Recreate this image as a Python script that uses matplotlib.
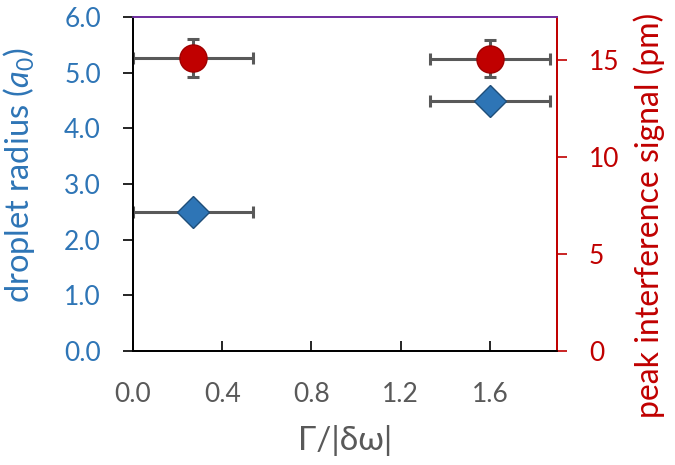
import numpy as np
import matplotlib.pyplot as plt

plt.rcParams['font.family'] = ['Lato', 'DejaVu Sans']
plt.rcParams['mathtext.fontset'] = 'custom'
plt.rcParams['mathtext.rm'] = 'Lato'
plt.rcParams['mathtext.it'] = 'Lato:italic'

# data
gamma = [0.27, 1.6]
gamma_err = [0.27, 0.27]
radius = [2.5, 4.5]
signal = [15.1, 15.05]
signal_err = [1.0, 0.95]

blue = '#2E75B6'
red = '#C00000'
grey = '#595959'

fig = plt.figure(figsize=(6.75, 4.65), dpi=100)
ax = fig.add_axes([0.197, 0.245, 0.628, 0.718])
ax2 = ax.twinx()

# droplet radius (left axis)
ax.errorbar(gamma, radius, xerr=gamma_err, fmt='none', ecolor=grey,
            elinewidth=2.2, capsize=4, capthick=2.2, zorder=2)
ax.plot(gamma, radius, 'D', ms=16.5, mfc=blue, mec='#1F4E79', mew=1.0,
        zorder=3)

# interference signal (right axis)
ax2.errorbar(gamma, signal, xerr=gamma_err, yerr=signal_err, fmt='none',
             ecolor=grey, elinewidth=2.2, capsize=4, capthick=2.2, zorder=2)
ax2.plot(gamma, signal, 'o', ms=19.5, mfc=red, mec='#A00000', mew=1.0,
         zorder=3)

ax.set_xlim(0, 1.9)
ax.set_ylim(0, 6)
ax2.set_ylim(0, 17.2)

xt = np.arange(0, 1.7, 0.4)
yt = np.arange(0, 6.1, 1.0)
ax.set_xticks(xt)
ax.set_xticklabels([f'{v:.1f}' for v in xt])
ax.set_yticks(yt)
ax.set_yticklabels([f'{v:.1f}' for v in yt])
ax2.set_yticks([0, 5, 10, 15])

ax.tick_params(axis='x', direction='in', length=7, width=1.2, color='black',
               labelcolor=grey, labelsize=19, pad=22)
ax.tick_params(axis='y', direction='out', length=7, width=1.2, color='black',
               labelcolor=blue, labelsize=19, pad=16)
ax2.tick_params(axis='y', direction='out', length=7, width=1.2, color=red,
                labelcolor=red, labelsize=19, pad=16)

for a in (ax, ax2):
    a.spines['left'].set_color('black')
    a.spines['bottom'].set_color('black')
    a.spines['right'].set_color(red)
    a.spines['top'].set_color('#7030A0')
    for s in a.spines.values():
        s.set_linewidth(1.3)

ax.set_xlabel('Γ/|δω|', color=grey, fontsize=24, labelpad=13)
ax.set_ylabel(r'droplet radius ($a_0$)', color=blue, fontsize=23.5)
ax.yaxis.set_label_coords(-0.226, 0.527)
ax2.set_ylabel('peak interference signal (pm)', color=red, fontsize=23)
ax2.yaxis.set_label_coords(1.18, 0.405)

fig.savefig('out.png', dpi=100)
